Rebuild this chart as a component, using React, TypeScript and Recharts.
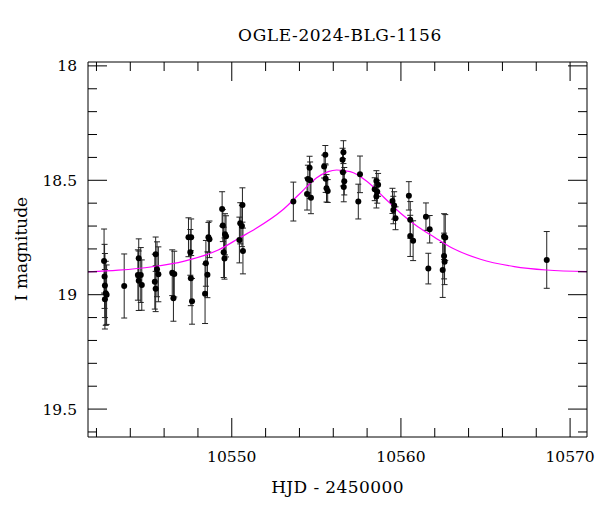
import React from 'react';
import { ComposedChart, Scatter, Line, XAxis, YAxis, ErrorBar } from 'recharts';

// OGLE photometry (HJD - 2450000, I mag, 1-sigma error)
const obsHjd = [
  10542.45, 10542.48, 10542.5, 10542.55, 10542.6, 10542.5,
  10543.64,
  10544.5, 10544.45, 10544.62, 10544.5, 10544.68,
  10545.5, 10545.58, 10545.66, 10545.45, 10545.5,
  10546.48, 10546.6, 10546.55,
  10547.44, 10547.6, 10547.55, 10547.58, 10547.65,
  10548.62, 10548.68, 10548.47, 10548.56, 10548.42,
  10549.43, 10549.47, 10549.6, 10549.66, 10549.52, 10549.57,
  10550.63, 10550.5, 10550.6, 10550.45, 10550.66,
  10553.64,
  10554.6, 10554.5, 10554.63, 10554.45, 10554.68,
  10555.53, 10555.46, 10555.55, 10555.6, 10555.67,
  10556.6, 10556.55, 10556.57, 10556.65, 10556.62,
  10557.58, 10557.48,
  10558.55, 10558.65, 10558.45, 10558.6, 10558.55,
  10559.5, 10559.6, 10559.55, 10559.68,
  10560.47, 10560.55, 10560.55, 10560.72,
  10561.48, 10561.7, 10561.62,
  10562.55, 10562.62, 10562.55, 10562.58, 10562.47,
  10568.62,
];
const obsMag = [
  18.853, 18.92, 18.96, 18.994, 19.0, 19.02,
  18.962,
  18.841, 18.914, 18.914, 18.939, 18.958,
  18.823, 18.889, 18.911, 18.943, 18.974,
  18.904, 18.91, 19.016,
  18.749, 18.749, 18.815, 18.928, 19.029,
  18.749, 18.758, 18.863, 18.913, 18.996,
  18.625, 18.698, 18.736, 18.745, 18.815, 18.842,
  18.608, 18.688, 18.7, 18.761, 18.809,
  18.593,
  18.445, 18.494, 18.5, 18.56, 18.576,
  18.388, 18.44, 18.493, 18.535, 18.547,
  18.377, 18.41, 18.465, 18.504, 18.529,
  18.474, 18.593,
  18.503, 18.52, 18.539, 18.55, 18.571,
  18.59, 18.61, 18.63, 18.666,
  18.568, 18.673, 18.743, 18.764,
  18.659, 18.714, 18.886,
  18.746, 18.75, 18.831, 18.856, 18.892,
  18.848,
];
const obsErr = [
  0.14, 0.14, 0.14, 0.14, 0.13, 0.13,
  0.14,
  0.085, 0.11, 0.12, 0.13, 0.11,
  0.075, 0.12, 0.12, 0.12, 0.1,
  0.1, 0.1, 0.1,
  0.085, 0.08, 0.1, 0.12, 0.1,
  0.065, 0.08, 0.1, 0.1, 0.13,
  0.075, 0.07, 0.09, 0.09, 0.11, 0.09,
  0.075, 0.09, 0.09, 0.1, 0.1,
  0.085,
  0.05, 0.06, 0.08, 0.07, 0.07,
  0.04, 0.05, 0.06, 0.06, 0.05,
  0.05, 0.05, 0.06, 0.06, 0.065,
  0.08, 0.076,
  0.045, 0.05, 0.05, 0.05, 0.05,
  0.055, 0.06, 0.06, 0.05,
  0.062, 0.08, 0.09, 0.087,
  0.06, 0.06, 0.067,
  0.1, 0.1, 0.1, 0.1, 0.12,
  0.124,
];

// model light curve (magenta), sampled off the plot
const modelHjd = [
  10541.5, 10543.3, 10545.3, 10547.2, 10549.2, 10550.5, 10551.4, 10553.0,
  10554.0, 10555.0, 10555.7, 10556.2, 10557.0, 10558.0, 10559.0, 10560.0,
  10561.0, 10562.0, 10563.0, 10564.7, 10566.7, 10568.6, 10571.0,
];
const modelMag = [
  18.9, 18.893, 18.878, 18.853, 18.805, 18.75, 18.712, 18.63,
  18.56, 18.49, 18.462, 18.455, 18.462, 18.505, 18.575, 18.645,
  18.703, 18.75, 18.795, 18.845, 18.877, 18.892, 18.899,
];

const xMajorTicks = [10550, 10560, 10570];
const xMinorTicks = [10542, 10544, 10546, 10548, 10552, 10554, 10556, 10558, 10562, 10564, 10566, 10568];
const yMajorTicks = [18, 18.5, 19, 19.5];
const yMinorTicks = [18.1, 18.2, 18.3, 18.4, 18.6, 18.7, 18.8, 18.9, 19.1, 19.2, 19.3, 19.4, 19.6];

const xDomain = [10541.5, 10571.0];
const yDomain = [17.983, 19.622];

const obs = obsHjd.map((t, i) => ({ t, mag: obsMag[i], err: obsErr[i] }));
const model = modelHjd.map((t, i) => ({ t, mag: modelMag[i] }));
const xTicks = [...xMinorTicks, ...xMajorTicks].sort((a, b) => a - b);
const yTicks = [...yMinorTicks, ...yMajorTicks].sort((a, b) => a - b);

const W = 600;
const H = 512;
const PLOT = { left: 88, right: 587, top: 62, bottom: 437 };
const MAJOR = 19;
const MINOR = 9;
const FONT = '"DejaVu Serif", serif';
const INK = '#000';

function BottomTick(props: any) {
  const { x, payload } = props;
  const major = xMajorTicks.includes(payload.value);
  return (
    <g>
      <line x1={x} x2={x} y1={PLOT.bottom} y2={PLOT.bottom - (major ? MAJOR : MINOR)} stroke={INK} />
      {major && (
        <text x={x} y={462} textAnchor="middle" fontFamily={FONT} fontSize={15.5} fill={INK}>
          {payload.value}
        </text>
      )}
    </g>
  );
}

function TopTick(props: any) {
  const { x, payload } = props;
  const major = xMajorTicks.includes(payload.value);
  return <line x1={x} x2={x} y1={PLOT.top} y2={PLOT.top + (major ? MAJOR : MINOR)} stroke={INK} />;
}

function LeftTick(props: any) {
  const { y, payload } = props;
  const major = yMajorTicks.includes(payload.value);
  return (
    <g>
      <line x1={PLOT.left} x2={PLOT.left + (major ? MAJOR : MINOR)} y1={y} y2={y} stroke={INK} />
      {major && (
        <text x={77} y={y + 5.6} textAnchor="end" fontFamily={FONT} fontSize={15.5} fill={INK}>
          {payload.value}
        </text>
      )}
    </g>
  );
}

function RightTick(props: any) {
  const { y, payload } = props;
  const major = yMajorTicks.includes(payload.value);
  return <line x1={PLOT.right} x2={PLOT.right - (major ? MAJOR : MINOR)} y1={y} y2={y} stroke={INK} />;
}

const Dot = (props: any) => <circle cx={props.cx} cy={props.cy} r={3} fill={INK} />;

export default function App() {
  return (
    <div style={{ position: 'absolute', left: 0, top: 0, width: W, height: H, background: '#fff' }}>
      <ComposedChart
        width={W}
        height={H}
        margin={{ top: PLOT.top - 1, right: W - PLOT.right - 1, bottom: 0, left: 0 }}
      >
        <XAxis
          xAxisId="bottom"
          dataKey="t"
          type="number"
          domain={xDomain}
          allowDataOverflow
          ticks={xTicks}
          interval={0}
          tick={<BottomTick />}
          tickLine={false}
          axisLine={{ stroke: INK }}
          height={H - PLOT.bottom}
          orientation="bottom"
        />
        <XAxis
          xAxisId="top"
          dataKey="t"
          type="number"
          domain={xDomain}
          allowDataOverflow
          ticks={xTicks}
          interval={0}
          tick={<TopTick />}
          tickLine={false}
          axisLine={{ stroke: INK }}
          height={1}
          orientation="top"
        />
        <YAxis
          yAxisId="left"
          type="number"
          domain={yDomain}
          allowDataOverflow
          reversed
          ticks={yTicks}
          interval={0}
          tick={<LeftTick />}
          tickLine={false}
          axisLine={{ stroke: INK }}
          width={PLOT.left}
          orientation="left"
        />
        <YAxis
          yAxisId="right"
          type="number"
          domain={yDomain}
          allowDataOverflow
          reversed
          ticks={yTicks}
          interval={0}
          tick={<RightTick />}
          tickLine={false}
          axisLine={{ stroke: INK }}
          width={1}
          orientation="right"
        />
        <Scatter
          data={obs}
          dataKey="mag"
          xAxisId="bottom"
          yAxisId="left"
          shape={Dot}
          isAnimationActive={false}
        >
          <ErrorBar dataKey="err" direction="y" width={3} stroke="#222" strokeWidth={1} />
        </Scatter>
        <Line
          data={model}
          dataKey="mag"
          xAxisId="bottom"
          yAxisId="left"
          type="monotone"
          stroke="#ff00ff"
          strokeWidth={1.2}
          dot={false}
          activeDot={false}
          isAnimationActive={false}
        />
      </ComposedChart>
      <svg
        width={W}
        height={H}
        style={{ position: 'absolute', left: 0, top: 0, pointerEvents: 'none' }}
      >
        <text x={340} y={41} textAnchor="middle" fontFamily={FONT} fontSize={17} letterSpacing={0.6} fill={INK}>
          OGLE-2024-BLG-1156
        </text>
        <text x={337.5} y={493} textAnchor="middle" fontFamily={FONT} fontSize={17} letterSpacing={0.4} fill={INK}>
          HJD - 2450000
        </text>
        <text
          x={27}
          y={249}
          textAnchor="middle"
          transform="rotate(-90 27 249)"
          fontFamily={FONT}
          fontSize={17}
          fill={INK}
        >
          I magnitude
        </text>
      </svg>
    </div>
  );
}
